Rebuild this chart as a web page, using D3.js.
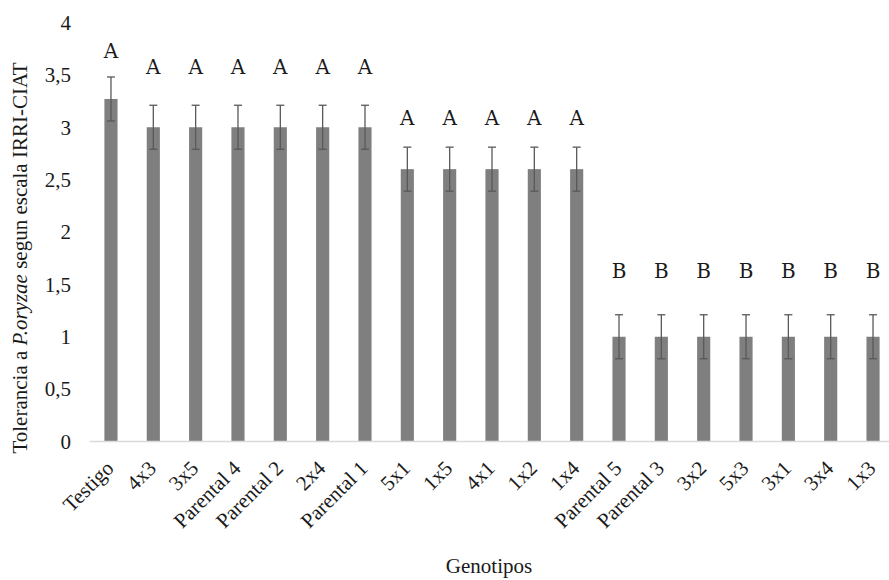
<!DOCTYPE html>
<html>
<head>
<meta charset="utf-8">
<script src="https://cdn.jsdelivr.net/npm/d3@7"></script>
<style>
  html, body { margin: 0; padding: 0; background: #fff; }
  svg { display: block; }
</style>
</head>
<body>
<svg id="chart" width="889" height="580" font-family="Liberation Serif, Times New Roman, serif"></svg>
<script>
// Genotypes evaluated
const genotipos = ["Testigo", "4x3", "3x5", "Parental 4", "Parental 2", "2x4", "Parental 1",
  "5x1", "1x5", "4x1", "1x2", "1x4", "Parental 5", "Parental 3", "3x2", "5x3", "3x1", "3x4", "1x3"];
// Mean tolerance score (IRRI-CIAT scale)
const medias = [3.27, 3, 3, 3, 3, 3, 3, 2.6, 2.6, 2.6, 2.6, 2.6, 1, 1, 1, 1, 1, 1, 1];
// Standard error of each mean
const errores = [0.21, 0.21, 0.21, 0.21, 0.21, 0.21, 0.21, 0.21, 0.21, 0.21, 0.21, 0.21,
  0.21, 0.21, 0.21, 0.21, 0.21, 0.21, 0.21];
// Mean-separation letters and the score level where each one sits
const letras = ["A", "A", "A", "A", "A", "A", "A", "A", "A", "A", "A", "A", "B", "B", "B", "B", "B", "B", "B"];
const nivelLetra = [3.66, 3.51, 3.51, 3.51, 3.51, 3.51, 3.51, 3.02, 3.02, 3.02, 3.02, 3.02,
  1.56, 1.56, 1.56, 1.56, 1.56, 1.56, 1.56];
// Y axis ticks
const ticksY = [0, 0.5, 1, 1.5, 2, 2.5, 3, 3.5, 4];

const datos = genotipos.map((g, i) => ({ g, m: medias[i], e: errores[i], l: letras[i], ly: nivelLetra[i] }));

const SERIF = "Liberation Serif, Times New Roman, serif";
const INK = "#1a1a1a";
const svg = d3.select("#chart");
const fmt = v => String(v).replace(".", ",");

const x = d3.scaleBand().domain(genotipos).range([89.8, 894.2]).paddingInner(0.69).paddingOuter(0.345);
const y = d3.scaleLinear().domain([0, 4]).range([441.5, 22.5]);
const cx = d => x(d.g) + x.bandwidth() / 2;

// Y tick labels (no axis line, no gridlines)
svg.append("g").selectAll("text").data(ticksY).join("text")
  .attr("x", 71).attr("y", d => y(d)).attr("dy", "0.35em")
  .attr("text-anchor", "end").attr("font-size", 21)
  .attr("font-family", SERIF).attr("fill", INK)
  .text(fmt);

// Bars
svg.append("g").selectAll("rect").data(datos).join("rect")
  .attr("x", d => x(d.g)).attr("width", x.bandwidth())
  .attr("y", d => y(d.m)).attr("height", d => y(0) - y(d.m))
  .attr("fill", "#7f7f7f");

// Baseline
svg.append("line").attr("x1", 89.8).attr("x2", 889).attr("y1", y(0)).attr("y2", y(0))
  .attr("stroke", "#d9d9d9").attr("stroke-width", 1.5);

// Error bars
const eb = svg.append("g").attr("stroke", "#595959").attr("stroke-width", 1.3).attr("fill", "none");
eb.selectAll("line.v").data(datos).join("line").attr("class", "v")
  .attr("x1", cx).attr("x2", cx).attr("y1", d => y(d.m + d.e)).attr("y2", d => y(d.m - d.e));
eb.selectAll("line.t").data(datos).join("line").attr("class", "t")
  .attr("x1", d => cx(d) - 4).attr("x2", d => cx(d) + 4).attr("y1", d => y(d.m + d.e)).attr("y2", d => y(d.m + d.e));
eb.selectAll("line.b").data(datos).join("line").attr("class", "b")
  .attr("x1", d => cx(d) - 4).attr("x2", d => cx(d) + 4).attr("y1", d => y(d.m - d.e)).attr("y2", d => y(d.m - d.e));

// Significance letters
svg.append("g").selectAll("text").data(datos).join("text")
  .attr("x", cx).attr("y", d => y(d.ly))
  .attr("text-anchor", "middle").attr("font-size", 20)
  .attr("font-family", "DejaVu Serif, serif").attr("fill", INK)
  .text(d => d.l);

// Category labels, turned 45 degrees counter-clockwise
const c45 = Math.SQRT1_2;
svg.append("g").selectAll("text").data(datos).join("text")
  .attr("transform", d => `matrix(${c45},${-c45},${c45},${c45},${cx(d) + 4},${y(0) + 28})`)
  .attr("text-anchor", "end").attr("font-size", 21)
  .attr("font-family", SERIF).attr("fill", INK)
  .text(d => d.g);

// Axis titles
svg.append("text").attr("x", 489).attr("y", 573).attr("text-anchor", "middle")
  .attr("font-size", 21).attr("font-family", SERIF).attr("fill", INK)
  .text("Genotipos");

const yt = svg.append("text").attr("transform", "translate(27,258) rotate(-90)")
  .attr("text-anchor", "middle").attr("font-size", 21)
  .attr("font-family", SERIF).attr("fill", INK);
yt.append("tspan").text("Tolerancia a ");
yt.append("tspan").attr("font-style", "italic").text("P.oryzae");
yt.append("tspan").text(" segun escala IRRI-CIAT");
</script>
</body>
</html>
